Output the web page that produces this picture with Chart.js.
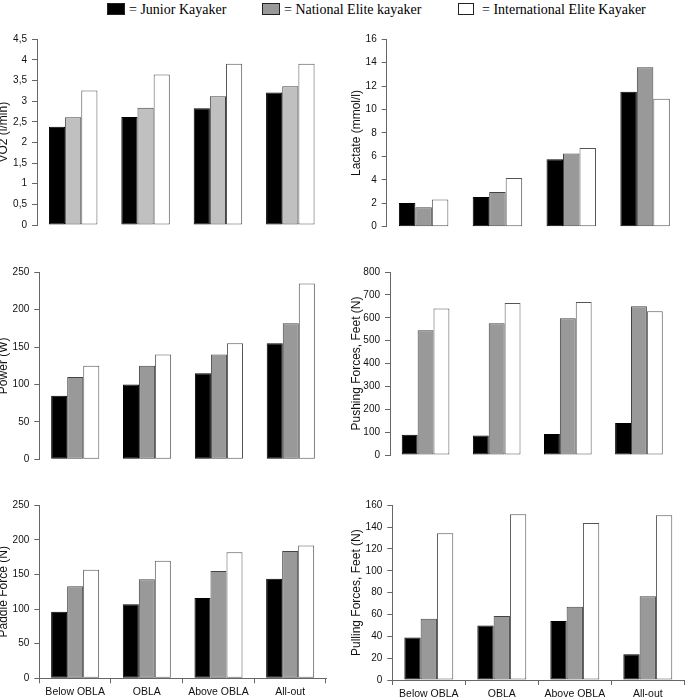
<!DOCTYPE html>
<html><head><meta charset="utf-8">
<script src="https://cdn.jsdelivr.net/npm/chart.js@4"></script>
<style>
html,body{margin:0;padding:0;background:#fff;width:685px;height:699px;overflow:hidden;}
body{position:relative;}
canvas{position:absolute;}
.leg{position:absolute;top:3px;font:14px/14px "Liberation Serif","Times New Roman",serif;color:#000;white-space:nowrap;}
.sw{position:absolute;top:3px;height:12px;box-sizing:border-box;border:1px solid #222;}
</style></head><body>
<div class="sw" style="left:107px;width:18px;background:#000"></div>
<div class="leg" style="left:129px">= Junior Kayaker</div>
<div class="sw" style="left:262px;width:18px;background:#999"></div>
<div class="leg" style="left:284px">= National Elite kayaker</div>
<div class="sw" style="left:458px;width:16px;background:#fff"></div>
<div class="leg" style="left:482px">= International Elite Kayaker</div>
<canvas id="c1"></canvas><canvas id="c2"></canvas>
<canvas id="c3"></canvas><canvas id="c4"></canvas>
<canvas id="c5"></canvas><canvas id="c6"></canvas>
<script>
const categories = ['Below OBLA', 'OBLA', 'Above OBLA', 'All-out'];
const seriesNames = ['Junior Kayaker', 'National Elite kayaker', 'International Elite Kayaker'];

const vo2Junior = [2.38, 2.62, 2.83, 3.21];
const vo2National = [2.61, 2.84, 3.12, 3.36];
const vo2International = [3.26, 3.65, 3.91, 3.91];
const vo2TickLabels = ['0', '0,5', '1', '1,5', '2', '2,5', '3', '3,5', '4', '4,5'];

const lactateJunior = [2.02, 2.53, 5.75, 11.53];
const lactateNational = [1.65, 2.96, 6.26, 13.61];
const lactateInternational = [2.33, 4.16, 6.72, 10.93];
const lactateTickLabels = ['0', '2', '4', '6', '8', '10', '12', '14', '16'];

const powerJunior = [85, 100, 115, 155];
const powerNational = [110, 125, 140, 182];
const powerInternational = [125, 140, 155, 235];
const powerTickLabels = ['0', '50', '100', '150', '200', '250'];

const pushJunior = [89, 85, 92, 140];
const pushNational = [545, 576, 598, 650];
const pushInternational = [640, 665, 669, 628];
const pushTickLabels = ['0', '100', '200', '300', '400', '500', '600', '700', '800'];

const paddleJunior = [96, 107, 116, 144];
const paddleNational = [133, 143, 155, 184];
const paddleInternational = [157, 170, 182, 192];
const paddleTickLabels = ['0', '50', '100', '150', '200', '250'];

const pullJunior = [39, 50, 54, 23.5];
const pullNational = [56, 58.6, 67, 76.6];
const pullInternational = [134.4, 151.8, 143.8, 150.8];
const pullTickLabels = ['0', '20', '40', '60', '80', '100', '120', '140', '160'];

Chart.defaults.font.family = '"Liberation Sans", Arial, sans-serif';
Chart.defaults.color = '#111';

function panel(id, box, area, cfg) {
  const c = document.getElementById(id);
  c.style.left = box.l + 'px';
  c.style.top = box.t + 'px';
  c.width = box.w; c.height = box.h;
  c.style.width = box.w + 'px'; c.style.height = box.h + 'px';
  const yW = area.x0 - box.l;
  const xH = box.t + box.h - area.y1;
  const step = cfg.max / (cfg.ticks.length - 1);
  new Chart(c, {
    type: 'bar',
    data: {
      labels: categories,
      datasets: [
        {label: seriesNames[0], data: cfg.data[0], backgroundColor: '#000', borderColor: '#000', borderWidth: 1},
        {label: seriesNames[1], data: cfg.data[1], backgroundColor: cfg.gray, borderColor: '#444', borderWidth: 1},
        {label: seriesNames[2], data: cfg.data[2], backgroundColor: '#fff', borderColor: '#555', borderWidth: 1}
      ]
    },
    options: {
      responsive: false, animation: false, devicePixelRatio: 1,
      layout: {padding: {left: 0, right: box.l + box.w - area.x1, top: area.y0 - box.t, bottom: 0}},
      plugins: {legend: {display: false}, tooltip: {enabled: false}},
      datasets: {bar: {categoryPercentage: 0.67, barPercentage: 1, borderSkipped: false}},
      scales: {
        x: {
          border: {display: cfg.xAxis, color: '#666', width: 1},
          grid: {display: cfg.xAxis, drawOnChartArea: false, drawTicks: true, tickLength: 5, color: '#666', offset: true},
          ticks: {display: cfg.xAxis, padding: 3, font: {size: 10.5}, color: '#111', maxRotation: 0},
          afterFit: s => { s.height = xH; }
        },
        y: {
          min: 0, max: cfg.max,
          border: {display: true, color: '#666', width: 1},
          grid: {drawOnChartArea: false, drawTicks: true, tickLength: 5, color: '#666'},
          ticks: {stepSize: step, padding: 5, font: {size: 10}, color: '#111',
                  callback: (v, i) => cfg.ticks[i]},
          title: {display: true, text: cfg.title, font: {size: 12}, color: '#111', padding: 0},
          afterFit: s => { s.width = yW; }
        }
      }
    }
  });
}

panel('c1', {l: -4, t: 28, w: 344, h: 215}, {x0: 37, x1: 326.5, y0: 39.3, y1: 225},
  {data: [vo2Junior, vo2National, vo2International], gray: '#c0c0c0', max: 4.5, ticks: vo2TickLabels, title: 'VO2 (l/min)', xAxis: false});
panel('c2', {l: 349, t: 28, w: 336, h: 215}, {x0: 386.7, x1: 682, y0: 39.3, y1: 226.7},
  {data: [lactateJunior, lactateNational, lactateInternational], gray: '#999999', max: 16, ticks: lactateTickLabels, title: 'Lactate (mmol/l)', xAxis: false});
panel('c3', {l: -4, t: 260, w: 344, h: 218}, {x0: 39.3, x1: 326.7, y0: 272.3, y1: 459.3},
  {data: [powerJunior, powerNational, powerInternational], gray: '#999999', max: 250, ticks: powerTickLabels, title: 'Power (W)', xAxis: false});
panel('c4', {l: 349, t: 260, w: 336, h: 218}, {x0: 390, x1: 674.5, y0: 272, y1: 455},
  {data: [pushJunior, pushNational, pushInternational], gray: '#999999', max: 800, ticks: pushTickLabels, title: 'Pushing Forces, Feet (N)', xAxis: false});
panel('c5', {l: -4, t: 492, w: 344, h: 207}, {x0: 39.3, x1: 326, y0: 505.3, y1: 678.3},
  {data: [paddleJunior, paddleNational, paddleInternational], gray: '#999999', max: 250, ticks: paddleTickLabels, title: 'Paddle Force (N)', xAxis: true});
panel('c6', {l: 349, t: 492, w: 336, h: 207}, {x0: 392.3, x1: 684.3, y0: 505.3, y1: 680},
  {data: [pullJunior, pullNational, pullInternational], gray: '#999999', max: 160, ticks: pullTickLabels, title: 'Pulling Forces, Feet (N)', xAxis: true});
</script>
</body></html>
